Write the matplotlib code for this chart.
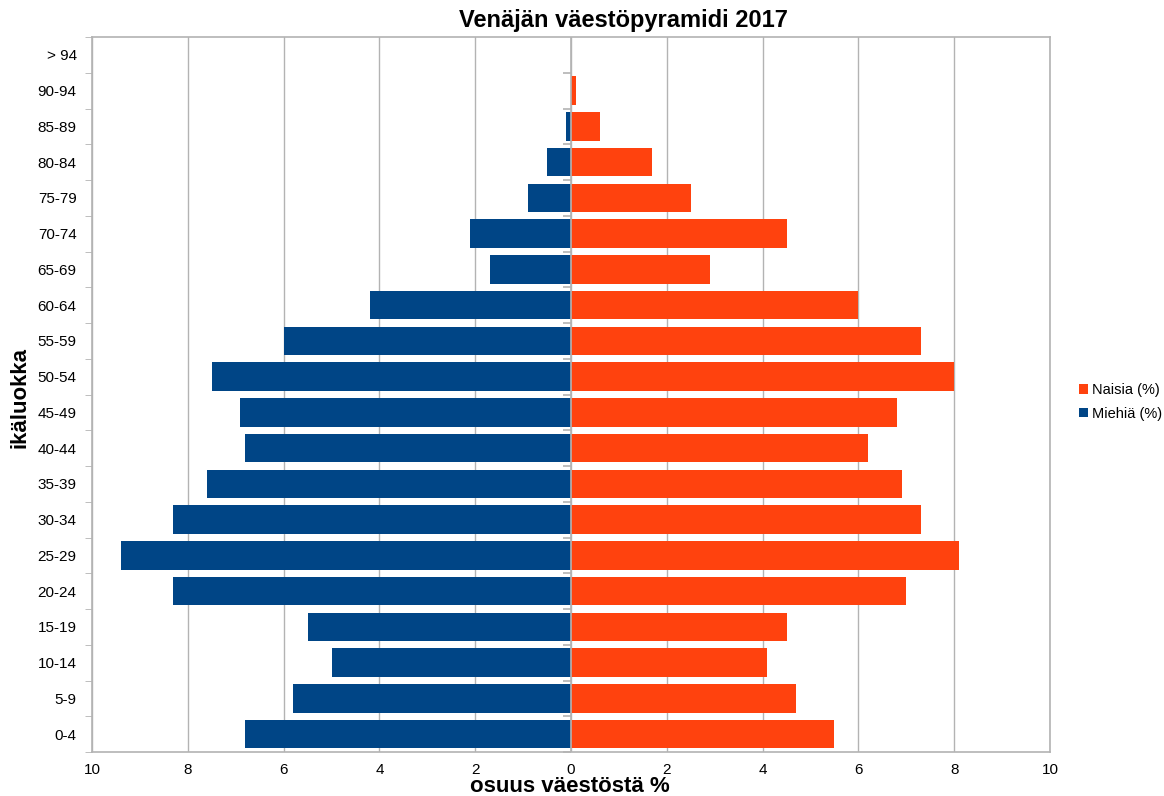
import matplotlib
matplotlib.use("Agg")
import matplotlib.pyplot as plt
from matplotlib.markers import TICKLEFT
import numpy as np

categories = ["0-4", "5-9", "10-14", "15-19", "20-24", "25-29", "30-34", "35-39",
              "40-44", "45-49", "50-54", "55-59", "60-64", "65-69", "70-74",
              "75-79", "80-84", "85-89", "90-94", "> 94"]
men = [6.8, 5.8, 5.0, 5.5, 8.3, 9.4, 8.3, 7.6, 6.8, 6.9, 7.5, 6.0, 4.2, 1.7, 2.1,
       0.9, 0.5, 0.1, 0.0, 0.0]
women = [5.5, 4.7, 4.1, 4.5, 7.0, 8.1, 7.3, 6.9, 6.2, 6.8, 8.0, 7.3, 6.0, 2.9, 4.5,
         2.5, 1.7, 0.6, 0.1, 0.0]
xticks = [-10, -8, -6, -4, -2, 0, 2, 4, 6, 8, 10]
xticklabels = ["10", "8", "6", "4", "2", "0", "2", "4", "6", "8", "10"]

BLUE = "#004586"
ORANGE = "#ff420e"
GRID = "#b3b3b3"

plt.rcParams['font.family'] = ['Liberation Sans', 'DejaVu Sans']

fig = plt.figure(figsize=(11.64, 7.96), dpi=100)
ax = fig.add_axes([92/1164, 1 - 752/796, (1050-92)/1164, (752-37)/796])

y = np.arange(len(categories))
ax.barh(y, women, height=0.8, color=ORANGE, label="Naisia (%)", zorder=3)
ax.barh(y, [-m for m in men], height=0.8, color=BLUE, label="Miehiä (%)", zorder=3)

ax.set_xlim(-10, 10)
ax.set_ylim(-0.5, len(categories) - 0.5)
ax.set_xticks(xticks)
ax.set_xticklabels(xticklabels, fontsize=11)
ax.set_yticks(y)
ax.set_yticklabels(categories, fontsize=11)
ax.tick_params(axis='y', length=0, pad=11)
ax.tick_params(axis='x', length=0, pad=8)
# boundary ticks
ax.set_yticks(np.arange(-0.5, len(categories)), minor=True)
ax.tick_params(axis='y', which='minor', length=5, color=GRID, direction='out')
ax.set_xticks(xticks, minor=True)
ax.tick_params(axis='x', which='minor', length=5, color=GRID, direction='out')

ax.xaxis.grid(True, color=GRID, linewidth=1, zorder=0)
ax.axvline(0, color=GRID, linewidth=1.2, zorder=4)
ax.plot(np.zeros(len(categories)), np.arange(-0.5, len(categories) - 0.5), linestyle='none',
        marker=TICKLEFT, markersize=6, markeredgewidth=1.2, color=GRID, zorder=4)
for s in ax.spines.values():
    s.set_color(GRID)
    s.set_linewidth(1.2)

fig.text(623/1164, 1 - 20/796, "Venäjän väestöpyramidi 2017", ha='center', va='center',
         fontsize=17, fontweight='bold')
fig.text(570/1164, 1 - 786/796, "osuus väestöstä %", ha='center', va='center',
         fontsize=16, fontweight='bold')
fig.text(20/1164, 1 - 398/796, "ikäluokka", ha='center', va='center', rotation=90,
         fontsize=16, fontweight='bold')

leg = fig.legend(loc='center left', bbox_to_anchor=(1079/1164, 1 - 402/796), frameon=False,
                 handlelength=0.6, handleheight=0.6, handletextpad=0.3,
                 labelspacing=0.65, borderaxespad=0, borderpad=0,
                 prop={'size': 10.5})

fig.savefig("out.png", dpi=100)
